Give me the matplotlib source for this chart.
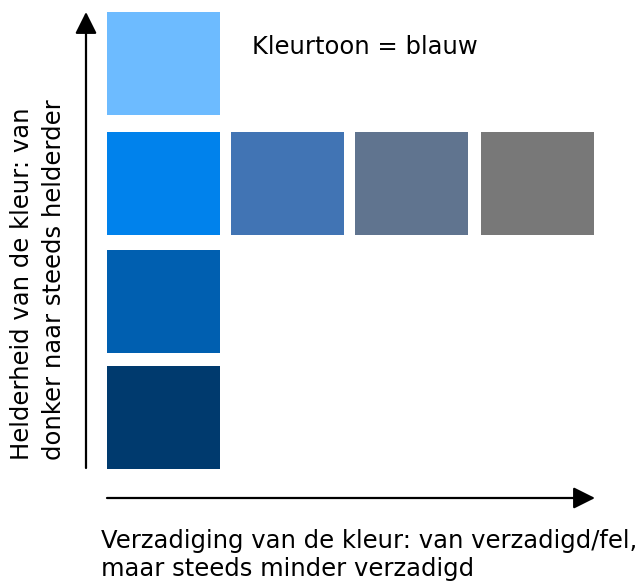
import matplotlib.pyplot as plt

# kleurstalen: (kolom, rij, kleur); rij 0 = donkerst, kolom 0 = meest verzadigd
swatch_cols = [0, 0, 0, 0, 1, 2, 3]
swatch_rows = [0, 1, 2, 3, 2, 2, 2]
swatch_colors = ["#003A6E", "#005FB0", "#0082EC", "#6DBBFF",
                 "#4174B4", "#60748F", "#787878"]

title_text = "Kleurtoon = blauw"
ylabel_text = "Helderheid van de kleur: van\ndonker naar steeds helderder"
xlabel_text = "Verzadiging van de kleur: van verzadigd/fel,\nmaar steeds minder verzadigd"


def main():
    plt.rcParams["font.family"] = ["DejaVu Sans"]

    fig = plt.figure(figsize=(6.43, 5.85), dpi=100)
    ax = fig.add_axes([0, 0, 1, 1])
    ax.set_xlim(0, 643)
    ax.set_ylim(585, 0)
    ax.axis("off")

    # layout in pixels
    col_lefts = [107, 231, 355, 481]
    row_tops = [366, 250, 132, 12]
    sq_w, sq_h = 113, 103

    lefts = [col_lefts[c] for c in swatch_cols]
    tops = [row_tops[r] for r in swatch_rows]
    ax.bar(lefts, [sq_h] * len(tops), width=sq_w, bottom=tops,
           color=swatch_colors, align="edge", linewidth=0)

    arrow = dict(arrowstyle="-|>,head_length=1.1,head_width=0.55",
                 color="black", lw=1.6, shrinkA=0, shrinkB=0,
                 mutation_scale=12)
    ax.annotate("", xy=(86, 12), xytext=(86, 468), arrowprops=arrow)
    ax.annotate("", xy=(595, 498), xytext=(107, 498), arrowprops=arrow)

    ax.text(252, 47, title_text, fontsize=17.5, va="center", ha="left")
    ax.text(101, 555, xlabel_text, fontsize=17.5, va="center", ha="left",
            linespacing=1.25)
    ax.text(38, 460, ylabel_text, fontsize=17.5, va="bottom", ha="center",
            rotation=90, linespacing=1.42, multialignment="left")

    fig.savefig("out.png", dpi=100)
    plt.close(fig)


if __name__ == "__main__":
    main()
